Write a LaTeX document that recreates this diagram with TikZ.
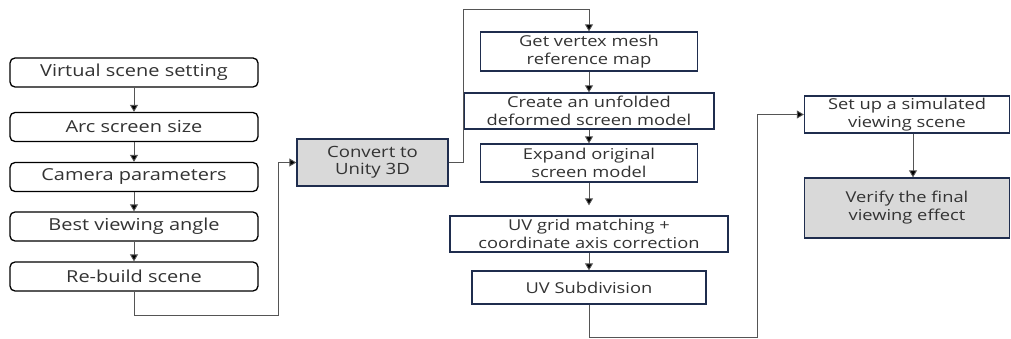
\documentclass[tikz,border=0pt]{standalone}
\usepackage{fontspec}
\setmainfont{Open Sans}[FakeStretch=1.22]
\newfontfamily\lfont{Open Sans}[FakeStretch=1.21]
\newfontfamily\cfont{Open Sans}[FakeStretch=1.2]
\usetikzlibrary{arrows.meta}
\definecolor{navy}{HTML}{1F2D4E}
\definecolor{boxgray}{HTML}{D9D9D9}
\definecolor{linegray}{HTML}{555555}
\definecolor{txt}{HTML}{333333}
\tikzset{
  lbox/.style={draw=black, line width=1.3pt, rounded corners=5pt, fill=white,
    minimum width=248pt, minimum height=29pt, inner sep=0pt,
    font=\lfont\fontsize{16.5}{18}\selectfont, text=txt},
  mbox/.style={draw=navy, line width=1.3pt, fill=white, inner sep=0pt,
    align=center, font=\fontsize{15}{18}\selectfont, text=txt},
  gbox/.style={mbox, fill=boxgray},
  conn/.style={draw=linegray, line width=0.9pt, -{Triangle[length=7pt,width=8pt,fill=black]}},
}
\begin{document}
\begin{tikzpicture}[x=1pt,y=-1pt]
\useasboundingbox (0,0) rectangle (1011,339);
% left column
\node[lbox] (vs) at (134,72.5) {Virtual scene setting};
\node[lbox] (ar) at (134,127) {Arc screen size};
\node[lbox] (cp) at (134,177) {Camera parameters};
\node[lbox] (bv) at (134,226.5) {Best viewing angle};
\node[lbox] (rb) at (134,276.5) {Re-build scene};
% convert
\node[gbox, minimum width=151pt, minimum height=47pt, font=\cfont\fontsize{15.5}{17}\selectfont] (cv) at (372.5,162.5) {Convert to\\Unity 3D};
% middle column
\node[mbox, minimum width=217pt, minimum height=39pt] (gv) at (589,51.5) {Get vertex mesh\\reference map};
\node[mbox, minimum width=250pt, minimum height=36pt] (cr) at (589,111) {Create an unfolded\\deformed screen model};
\node[mbox, minimum width=217pt, minimum height=38pt] (ex) at (589,163) {Expand original\\screen model};
\node[mbox, minimum width=278pt, minimum height=36pt] (uv) at (589,234) {UV grid matching +\\coordinate axis correction};
\node[mbox, minimum width=234pt, minimum height=33pt] (sd) at (589,287.5) {UV Subdivision};
% right column
\node[mbox, minimum width=205pt, minimum height=37pt] (su) at (907,114.5) {Set up a simulated\\viewing scene};
\node[gbox, minimum width=205pt, minimum height=60pt] (vf) at (907,208) {Verify the final\\viewing effect};
% helper coordinates
\coordinate (k1) at (278,315);
\coordinate (k2) at (463,9);
\coordinate (k3) at (757,337);
% left arrows
\draw[conn] (vs.south) -- (ar.north);
\draw[conn] (ar.south) -- (cp.north);
\draw[conn] (cp.south) -- (bv.north);
\draw[conn] (bv.south) -- (rb.north);
\draw[conn] (rb.south) |- (k1) |- (cv.west);
\draw[conn] (cv.east) -| (k2) -| (gv.north);
% middle arrows
\draw[conn] (gv.south) -- (cr.north);
\draw[conn] (cr.south) -- (ex.north);
\draw[conn] (ex.south) -- ([yshift=10pt]uv.north);
\draw[conn] (uv.south) -- (sd.north);
\draw[conn] (sd.south) |- (k3) |- (su.west);
% right arrow
\draw[conn] ([xshift=6pt]su.south) -- ([xshift=6pt]vf.north);
\end{tikzpicture}
\end{document}
